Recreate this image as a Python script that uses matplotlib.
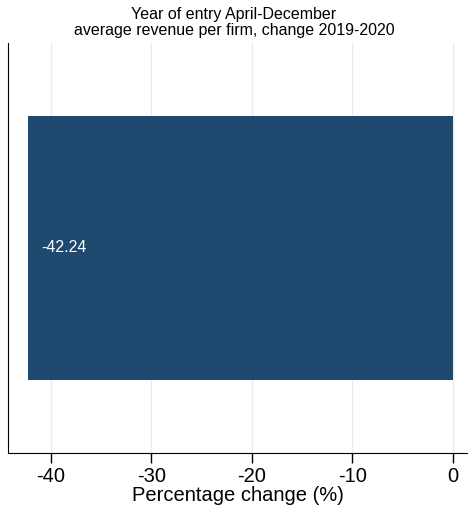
import numpy as np
import matplotlib
matplotlib.use('Agg')
import matplotlib.pyplot as plt

plt.rcParams['font.family'] = ['Liberation Sans', 'DejaVu Sans']

############ data ############
categories = ['April-December']
changes = [-42.24]
xticks = [-40, -30, -20, -10, 0]

fig = plt.figure(figsize=(4.68, 5.05), dpi=100)
ax = fig.add_axes([8/468, 1 - 452.7/505, (467 - 8)/468, (452.7 - 43)/505])

ypos = np.arange(len(categories))
ax.barh(ypos, changes, height=0.644, color='#1d4a6e', zorder=2)
for y, v in zip(ypos, changes):
    ax.text(v + 1.3, y, '%.2f' % v, color='white', fontsize=11.5, va='center', ha='left', zorder=3)

ax.set_xlim(-44.25, 1.42)
ax.set_ylim(-0.5, 0.5)
ax.set_xticks(xticks)
ax.set_xticklabels([str(t) for t in xticks], fontsize=14.5)
ax.set_yticks([])
ax.tick_params(axis='x', length=7, width=1, pad=3)
ax.grid(axis='x', color='#e4ebf1', linewidth=1, zorder=0)
ax.spines['top'].set_visible(False)
ax.spines['right'].set_visible(False)
ax.set_xlabel('Percentage change (%)', fontsize=14.5, labelpad=0)

fig.suptitle('Year of entry April-December\naverage revenue per firm, change 2019-2020',
             fontsize=11.5, y=0.987, linespacing=1.1)

plt.savefig('out.png', dpi=100)
